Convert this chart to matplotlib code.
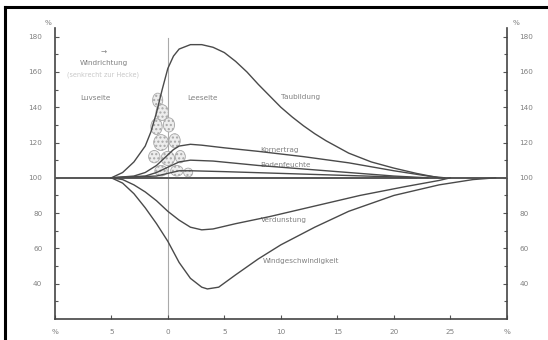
import numpy as np
import matplotlib
matplotlib.use('Agg')
import matplotlib.pyplot as plt
from matplotlib.patches import Ellipse
from matplotlib.lines import Line2D

# Data (relative values in %, distance in hedge heights)
TAU_X = [-5, -4, -3, -2, -1.5, -1, -0.5, 0, 0.5, 1, 2, 3, 4, 5, 6, 7, 8, 9, 10,
         11, 12, 13, 14, 16, 18, 20, 22, 24]
TAU_Y = [100, 103, 109, 118, 126, 137, 150, 162, 169, 173, 175.5, 175.5, 174,
         171, 166, 160, 153, 146.5, 140, 134.5, 129.5, 125, 121, 114, 109, 105.5,
         102.5, 100]

ERTRAG_X = [-5, -3, -2, -1, 0, 0.5, 1, 2, 3, 5, 8, 12, 16, 20, 23, 24.5]
ERTRAG_Y = [100, 101, 103, 107, 113, 116, 118, 119, 118.5, 117, 115, 112,
            108.5, 104, 101, 100]

FEUCHTE_X = [-5, -2, -1, 0, 1, 2, 4, 8, 12, 16, 20, 23]
FEUCHTE_Y = [100, 101, 103, 106, 109, 110, 109.5, 107, 105, 103, 101, 100]

KLEIN_X = [-5, -1, 0, 1, 2, 5, 10, 15, 20, 22]
KLEIN_Y = [100, 101, 102.5, 104, 104, 103.5, 102.5, 101.5, 100.5, 100]

VERD_X = [-5, -4, -3, -2, -1, 0, 1, 2, 3, 4, 6, 9, 13, 17, 21, 24, 25]
VERD_Y = [100, 99, 96, 92, 87, 81, 76, 72, 70.5, 71, 74, 78, 84, 90, 95,
          98.5, 100]

WIND_X = [-5, -4, -3, -2, -1, 0, 1, 2, 3, 3.5, 4.5, 6, 8, 10, 13, 16, 20,
          24, 27, 29]
WIND_Y = [100, 97, 91, 83, 74, 64, 52, 43, 38, 37, 38, 45, 54, 62, 72, 81,
          90, 96, 99, 100]

# hedge crowns sketch (x, y, w, h)
HEDGE = [(-0.9, 144, 0.9, 8), (-0.5, 137, 1.1, 9), (-1.0, 129, 1.0, 9),
         (0.1, 130, 1.0, 8), (-0.6, 120, 1.3, 9), (0.6, 121, 1.0, 8),
         (-1.2, 112, 1.0, 7), (0.0, 111, 1.2, 8), (1.1, 112, 0.9, 7),
         (-0.6, 104, 1.1, 6), (0.8, 104, 1.1, 6), (1.8, 103, 0.8, 5)]

Y_TICKS = [40, 60, 80, 100, 120, 140, 160, 180]
X_TICKS = [-10, -5, 0, 5, 10, 15, 20, 25, 30]
X_LABELS = ['%', '5', '0', '5', '10', '15', '20', '25', '%']

LINE = '#4a4a4a'
TXT = '#808080'

fig = plt.figure(figsize=(5.48, 3.40), dpi=100)
fig.patch.set_facecolor('white')
ax = fig.add_axes([0.100, 0.062, 0.825, 0.856])

# scan border (top and left)
fig.add_artist(Line2D([0.009, 0.009], [0, 0.98], transform=fig.transFigure,
                      color='black', lw=2.2))
fig.add_artist(Line2D([0.009, 1.0], [0.98, 0.98], transform=fig.transFigure,
                      color='black', lw=2.2))

# hedge
ax.plot([0, 0], [20, 179], color='#aaaaaa', lw=0.8, zorder=1)
for hx, hy, hw, hh in HEDGE:
    ax.add_patch(Ellipse((hx, hy), hw, hh, facecolor='#ededed',
                         edgecolor='#a8a8a8', lw=0.6, hatch='....', zorder=2))

ax.plot([-10, 30], [100, 100], color='#555555', lw=1.4, zorder=3)

for xs, ys in [(TAU_X, TAU_Y), (ERTRAG_X, ERTRAG_Y), (FEUCHTE_X, FEUCHTE_Y),
               (KLEIN_X, KLEIN_Y), (VERD_X, VERD_Y), (WIND_X, WIND_Y)]:
    ax.plot(xs, ys, color=LINE, lw=1.0, zorder=4)

fs = 5.2
ax.text(10.0, 146, 'Taubildung', fontsize=fs, color=TXT, ha='left', va='center')
ax.text(8.2, 115.5, 'Kornertrag', fontsize=fs, color=TXT, ha='left', va='center')
ax.text(8.2, 107, 'Bodenfeuchte', fontsize=fs, color=TXT, ha='left', va='center')
ax.text(8.2, 76, 'Verdunstung', fontsize=fs, color=TXT, ha='left', va='center')
ax.text(8.4, 53, 'Windgeschwindigkeit', fontsize=fs, color=TXT, ha='left', va='center')
ax.text(-5.7, 171, '\u2192', fontsize=fs, color=TXT, ha='center', va='center')
ax.text(-5.7, 165, 'Windrichtung', fontsize=fs, color=TXT, ha='center', va='center')
ax.text(-5.7, 158.5, '(senkrecht zur Hecke)', fontsize=fs - 0.5, color='#c8c8c8',
        ha='center', va='center')
ax.text(-6.4, 145.5, 'Luvseite', fontsize=fs, color=TXT, ha='center', va='center')
ax.text(3.1, 145.5, 'Leeseite', fontsize=fs, color=TXT, ha='center', va='center')

ax.set_xlim(-10, 30)
ax.set_ylim(20, 185)
ax.set_xticks(X_TICKS)
ax.set_xticklabels(X_LABELS)
ax.set_yticks(Y_TICKS)
ax.set_yticks(np.arange(30, 185, 10), minor=True)
ax.tick_params(axis='both', which='both', direction='in', colors='#555555',
               labelcolor=TXT, labelsize=5.2, length=3, width=0.8)
ax.tick_params(axis='y', which='both', right=True, labelright=True)
ax.tick_params(axis='y', which='minor', length=2)
ax.tick_params(axis='x', pad=7)
ax.tick_params(axis='y', pad=9)

for side in ['left', 'right', 'bottom']:
    ax.spines[side].set_color('#444444')
    ax.spines[side].set_linewidth(1.2)
ax.spines['top'].set_visible(False)

ax.text(-10.6, 188, '%', fontsize=fs, color=TXT, ha='center', va='center',
        clip_on=False)
ax.text(30.8, 188, '%', fontsize=fs, color=TXT, ha='center', va='center',
        clip_on=False)

fig.savefig('out.png', dpi=100, facecolor='white')
